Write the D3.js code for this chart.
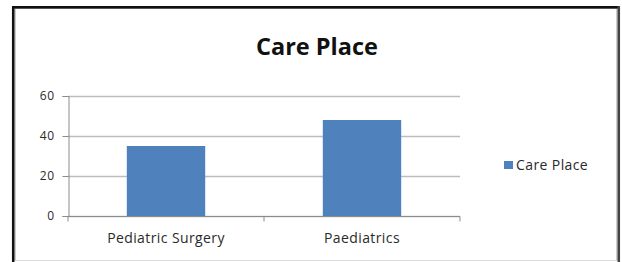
<!DOCTYPE html>
<html>
<head>
<meta charset="utf-8">
<script src="https://cdn.jsdelivr.net/npm/d3@7"></script>
<style>
    body { margin: 0; background: #ffffff; }
    text { font-family: "Open Sans", sans-serif; }
</style>
</head>
<body>
<div id="chart"></div>
<script>
// Data
const categories = ["Pediatric Surgery", "Paediatrics"];
const careValues = [35, 48];
const yTicks = [0, 20, 40, 60];
const seriesName = "Care Place";
const chartTitle = "Care Place";

const data = categories.map((c, i) => ({ category: c, value: careValues[i] }));

let
    width = 622,
    height = 262;

// plot area inside the frame
let margin = {
    top: 96,
    bottom: 46,
    left: 68,
    right: 162
};

const svg = d3.select('#chart')
    .append('svg')
    .attr('width', width)
    .attr('height', height);

// Outer frame (dark left/top/right, faint bottom)
svg.append('rect')
    .attr('x', 15)
    .attr('y', 8.5)
    .attr('width', 602)
    .attr('height', 252)
    .attr('fill', 'none')
    .attr('stroke', '#9a9a9a')
    .attr('stroke-width', 1);

const frame = svg.append('g')
    .attr('stroke', '#111')
    .attr('stroke-width', 2.5);

frame.append('line').attr('x1', 13.2).attr('x2', 13.2).attr('y1', 6).attr('y2', 262);
frame.append('line').attr('x1', 12).attr('x2', 620).attr('y1', 7.2).attr('y2', 7.2);
frame.append('line').attr('x1', 618.8).attr('x2', 618.8).attr('y1', 6).attr('y2', 262)
    .attr('stroke', '#444');

svg.append('line')
    .attr('x1', 15).attr('x2', 617)
    .attr('y1', 260.5).attr('y2', 260.5)
    .attr('stroke', '#dcdcdc');

// Scales
const xScale = d3.scaleBand()
    .domain(categories)
    .range([margin.left, width - margin.right])
    .paddingInner(0.6)
    .paddingOuter(0.3);

const yScale = d3.scaleLinear()
    .domain([0, 60])
    .range([height - margin.bottom, margin.top]);

// Gridlines
svg.append('g')
    .selectAll('line')
    .data(yTicks)
    .enter()
    .append('line')
    .attr('x1', margin.left)
    .attr('x2', width - margin.right)
    .attr('y1', d => Math.round(yScale(d)) + 0.5)
    .attr('y2', d => Math.round(yScale(d)) + 0.5)
    .attr('stroke', '#bdbdbd')
    .attr('stroke-width', 1.5);

// Bars
svg.selectAll('.bar')
    .data(data)
    .enter()
    .append('rect')
    .attr('class', 'bar')
    .attr('x', d => xScale(d.category))
    .attr('y', d => yScale(d.value))
    .attr('width', xScale.bandwidth())
    .attr('height', d => yScale(0) - yScale(d.value))
    .attr('fill', '#4f81bd');

// Y axis
const yAxis = svg.append('g')
    .attr('transform', `translate(${margin.left + 0.5},0)`)
    .call(d3.axisLeft(yScale).tickValues(yTicks).tickSize(6).tickPadding(8));

yAxis.select('.domain').attr('stroke', '#8c8c8c');
yAxis.selectAll('.tick line').attr('stroke', '#8c8c8c');
yAxis.selectAll('.tick text')
    .attr('fill', '#2a2a2a')
    .style('font-size', '12px')
    .style('letter-spacing', '0.5px');

// X axis (ticks at category boundaries)
const xAxis = svg.append('g')
    .attr('transform', `translate(0,${Math.round(yScale(0)) + 0.5})`);

xAxis.append('line')
    .attr('x1', margin.left)
    .attr('x2', width - margin.right)
    .attr('stroke', '#8c8c8c');

const step = xScale.step();
const boundaries = [margin.left, margin.left + step, margin.left + step * 2];

xAxis.selectAll('.xtick')
    .data(boundaries)
    .enter()
    .append('line')
    .attr('x1', d => d)
    .attr('x2', d => d)
    .attr('y1', 0)
    .attr('y2', 5)
    .attr('stroke', '#8c8c8c');

xAxis.selectAll('.xlabel')
    .data(categories)
    .enter()
    .append('text')
    .attr('x', d => xScale(d) + xScale.bandwidth() / 2)
    .attr('y', 26)
    .attr('text-anchor', 'middle')
    .attr('fill', '#2a2a2a')
    .style('font-size', '14px')
    .style('letter-spacing', '0.4px')
    .text(d => d);

// Title
svg.append('text')
    .attr('x', 317)
    .attr('y', 55)
    .attr('text-anchor', 'middle')
    .attr('fill', '#111')
    .style('font-size', '23.5px')
    .style('font-weight', 'bold')
    .text(chartTitle);

// Legend
const legend = svg.append('g')
    .attr('transform', 'translate(504,161)');

legend.append('rect')
    .attr('width', 9)
    .attr('height', 8)
    .attr('fill', '#4f81bd');

legend.append('text')
    .attr('x', 12)
    .attr('y', 4)
    .attr('dy', '0.35em')
    .attr('fill', '#2a2a2a')
    .style('font-size', '14px')
    .style('letter-spacing', '0.4px')
    .text(seriesName);
</script>
</body>
</html>
